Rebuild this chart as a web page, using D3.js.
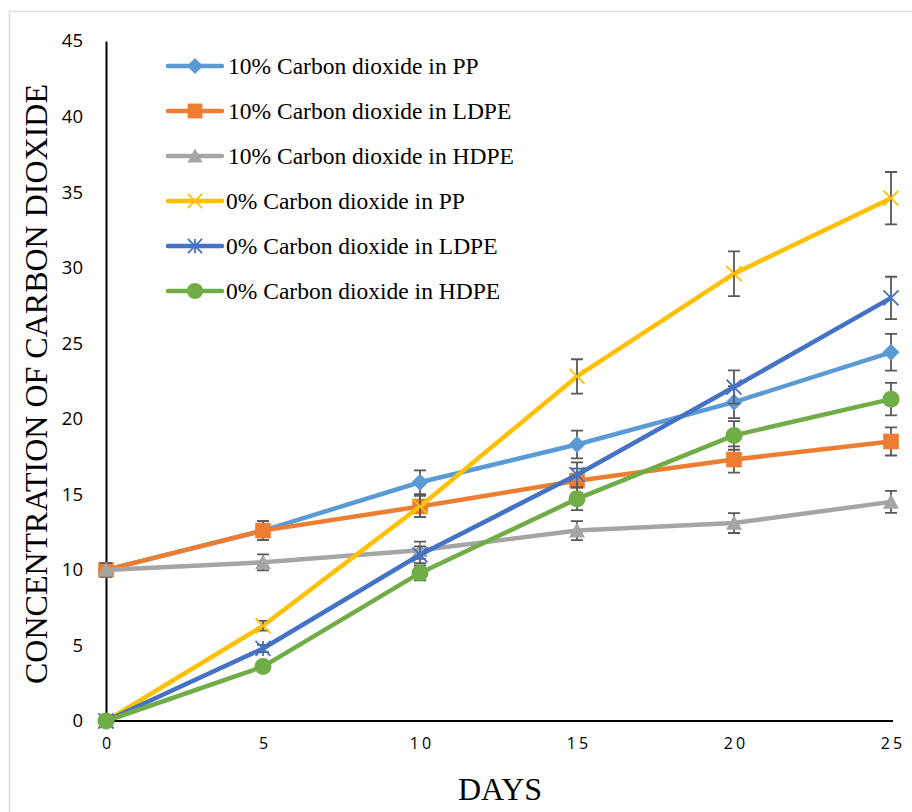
<!DOCTYPE html>
<html>
<head>
<meta charset="utf-8">
<script src="https://cdn.jsdelivr.net/npm/d3@7"></script>
<style>
  html, body { margin: 0; padding: 0; background: #fff; }
  svg { display: block; }
</style>
</head>
<body>
<svg id="chart" width="912" height="812"></svg>
<script>
// Days of storage
const days = [0, 5, 10, 15, 20, 25];
const yTicks = [0, 5, 10, 15, 20, 25, 30, 35, 40, 45];

// CO2 concentration per film / starting atmosphere
const pp10   = [10, 12.6, 15.8, 18.3, 21.1, 24.4];
const ldpe10 = [10, 12.6, 14.2, 15.9, 17.3, 18.5];
const hdpe10 = [10, 10.5, 11.3, 12.6, 13.1, 14.5];
const pp0    = [0, 6.3, 14.2, 22.8, 29.6, 34.6];
const ldpe0  = [0, 4.8, 11.0, 16.3, 22.1, 28.0];
const hdpe0  = [0, 3.6, 9.8, 14.7, 18.9, 21.3];

// Standard error per point
const pp10Err   = [0.45, 0.63, 0.79, 0.92, 1.06, 1.22];
const ldpe10Err = [0.45, 0.63, 0.71, 0.8, 0.87, 0.93];
const hdpe10Err = [0.45, 0.53, 0.57, 0.63, 0.66, 0.73];
const pp0Err    = [0, 0.32, 0.71, 1.14, 1.48, 1.73];
const ldpe0Err  = [0, 0.24, 0.55, 0.82, 1.1, 1.4];
const hdpe0Err  = [0, 0.18, 0.49, 0.74, 0.95, 1.07];

const seriesNames = [
  "10% Carbon dioxide in PP",
  "10% Carbon dioxide in LDPE",
  "10% Carbon dioxide in HDPE",
  "0% Carbon dioxide in PP",
  "0% Carbon dioxide in LDPE",
  "0% Carbon dioxide in HDPE"
];
const seriesValues = [pp10, ldpe10, hdpe10, pp0, ldpe0, hdpe0];
const seriesErrors = [pp10Err, ldpe10Err, hdpe10Err, pp0Err, ldpe0Err, hdpe0Err];
const seriesColors = ["#5B9BD5", "#ED7D31", "#A5A5A5", "#FFC000", "#4472C4", "#70AD47"];
const seriesMarkers = ["diamond", "square", "triangle", "x", "star", "circle"];

const svg = d3.select("#chart");

// outer chart frame
svg.append("rect")
  .attr("x", 9.5).attr("y", 11.5)
  .attr("width", 920).attr("height", 820)
  .attr("fill", "none").attr("stroke", "#d9d9d9").attr("stroke-width", 1.5);

const x = d3.scaleLinear().domain([0, 25]).range([106, 891]);
const y = d3.scaleLinear().domain([0, 45]).range([721, 41]);

// axes
const yAxis = d3.axisLeft(y).tickValues(yTicks).tickSize(0).tickPadding(23);
const gy = svg.append("g").attr("transform", `translate(${x(0)},0)`).call(yAxis);
gy.select(".domain").attr("stroke", "#000").attr("stroke-width", 2);
gy.selectAll("text")
  .attr("font-family", "'Open Sans', 'Liberation Sans', sans-serif")
  .attr("font-size", 18.5).attr("fill", "#000");

const xAxis = d3.axisBottom(x).tickValues(days).tickSize(0).tickPadding(17);
const gx = svg.append("g").attr("transform", `translate(0,${y(0)})`).call(xAxis);
gx.select(".domain").attr("stroke", "#000").attr("stroke-width", 2)
  .attr("d", `M${x(0)},0H${x(25) + 2}`);
gx.selectAll("text")
  .attr("font-family", "'Open Sans', 'Liberation Sans', sans-serif")
  .attr("font-size", 16).attr("letter-spacing", "3px").attr("fill", "#000")
  .attr("dx", "1.5px");

// axis titles
svg.append("text")
  .attr("transform", `translate(47,384) rotate(-90)`)
  .attr("text-anchor", "middle")
  .attr("font-family", "'Liberation Serif', 'Times New Roman', serif")
  .attr("font-size", 32).attr("fill", "#000")
  .text("CONCENTRATION OF CARBON DIOXIDE");

svg.append("text")
  .attr("x", 500).attr("y", 800)
  .attr("text-anchor", "middle")
  .attr("font-family", "'Liberation Serif', 'Times New Roman', serif")
  .attr("font-size", 32).attr("fill", "#000")
  .text("DAYS");

// marker shapes
function drawMarker(g, kind, color, cx, cy, scale) {
  const s = scale || 1;
  if (kind === "diamond") {
    const r = 8.5 * s;
    g.append("path").attr("d", `M${cx},${cy - r}L${cx + r},${cy}L${cx},${cy + r}L${cx - r},${cy}Z`)
      .attr("fill", color);
  } else if (kind === "square") {
    const r = 7.8 * s;
    g.append("rect").attr("x", cx - r).attr("y", cy - r).attr("width", 2 * r).attr("height", 2 * r)
      .attr("fill", color);
  } else if (kind === "triangle") {
    const r = 8 * s;
    g.append("path").attr("d", `M${cx},${cy - r}L${cx + r},${cy + r * 0.85}L${cx - r},${cy + r * 0.85}Z`)
      .attr("fill", color);
  } else if (kind === "circle") {
    g.append("circle").attr("cx", cx).attr("cy", cy).attr("r", 8.5 * s).attr("fill", color);
  } else if (kind === "x") {
    const r = 7.5 * s;
    g.append("path").attr("d", `M${cx - r},${cy - r}L${cx + r},${cy + r}M${cx - r},${cy + r}L${cx + r},${cy - r}`)
      .attr("stroke", color).attr("stroke-width", 1.8).attr("fill", "none");
  } else if (kind === "star") {
    const r = 7.5 * s;
    g.append("path").attr("d",
      `M${cx - r},${cy - r}L${cx + r},${cy + r}M${cx - r},${cy + r}L${cx + r},${cy - r}M${cx},${cy - r}L${cx},${cy + r}`)
      .attr("stroke", color).attr("stroke-width", 1.8).attr("fill", "none");
  }
}

const line = d3.line().x(d => x(d[0])).y(d => y(d[1]));
const plot = svg.append("g");

seriesValues.forEach((vals, i) => {
  const g = plot.append("g");
  const pts = days.map((d, j) => [d, vals[j]]);
  g.append("path").datum(pts)
    .attr("d", line)
    .attr("fill", "none")
    .attr("stroke", seriesColors[i])
    .attr("stroke-width", 4.5)
    .attr("stroke-linejoin", "round");

  // error bars
  const errs = seriesErrors[i];
  days.forEach((d, j) => {
    if (errs[j] <= 0) return;
    const cx = x(d), y1 = y(vals[j] + errs[j]), y2 = y(vals[j] - errs[j]);
    g.append("path")
      .attr("d", `M${cx},${y1}V${y2}M${cx - 6},${y1}H${cx + 6}M${cx - 6},${y2}H${cx + 6}`)
      .attr("stroke", "#595959").attr("stroke-width", 1.8).attr("fill", "none");
  });

  days.forEach((d, j) => drawMarker(g, seriesMarkers[i], seriesColors[i], x(d), y(vals[j])));
});

// legend
const legend = svg.append("g");
seriesNames.forEach((name, i) => {
  const ly = 66 + i * 45;
  const lg = legend.append("g");
  lg.append("line")
    .attr("x1", 168).attr("x2", 222).attr("y1", ly).attr("y2", ly)
    .attr("stroke", seriesColors[i]).attr("stroke-width", 4.5).attr("stroke-linecap", "round");
  drawMarker(lg, seriesMarkers[i], seriesColors[i], 195, ly, 0.95);
  lg.append("text")
    .attr("x", i < 3 ? 228 : 226).attr("y", ly + 8)
    .attr("font-family", "'Liberation Serif', 'Times New Roman', serif")
    .attr("font-size", 23.5).attr("fill", "#000")
    .text(name);
});
</script>
</body>
</html>
